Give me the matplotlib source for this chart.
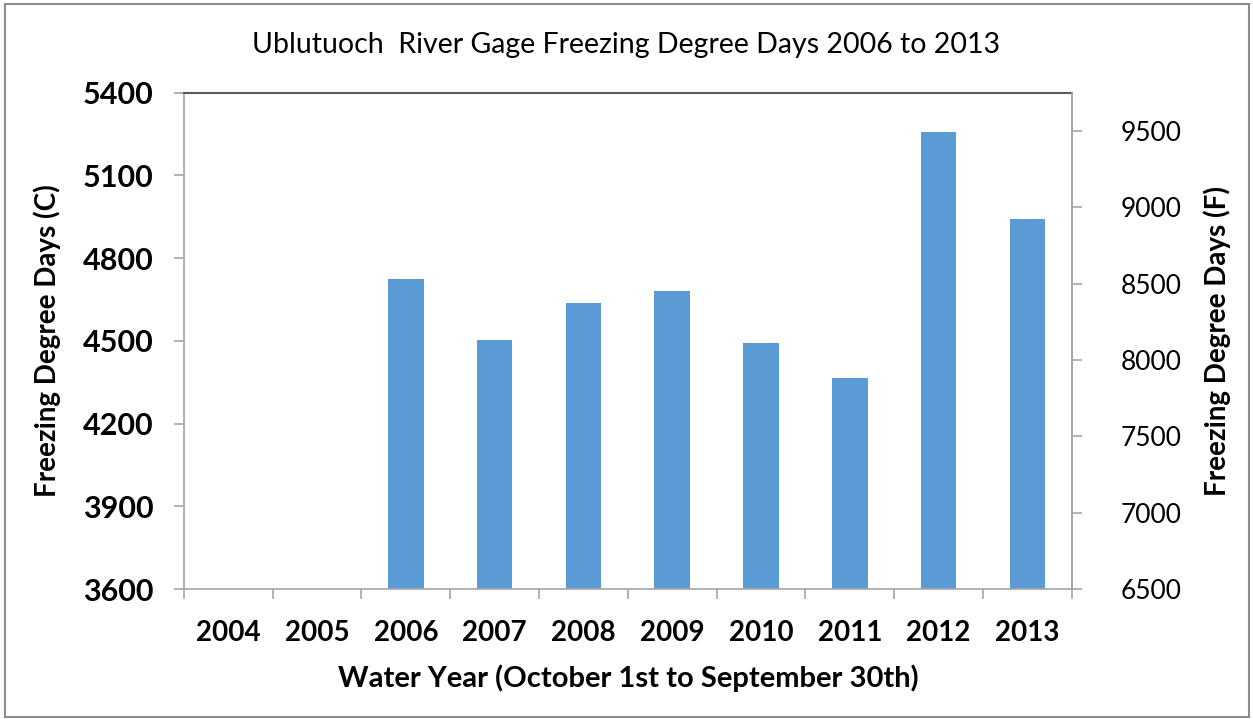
import matplotlib.pyplot as plt
from matplotlib.patches import Rectangle
import numpy as np

# --- DATA ---
years = ['2004', '2005', '2006', '2007', '2008', '2009', '2010', '2011', '2012', '2013']
fdd_c = [np.nan, np.nan, 4723, 4504, 4636, 4681, 4491, 4365, 5256, 4942]
left_ticks = [3600, 3900, 4200, 4500, 4800, 5100, 5400]
right_ticks = [6500, 7000, 7500, 8000, 8500, 9000, 9500]

TITLE = "Ublutuoch  River Gage Freezing Degree Days 2006 to 2013"
BAR_COLOR = "#5B9BD5"
AXIS_GRAY = "#A6A6A6"

plt.rcParams['font.family'] = ['Lato', 'DejaVu Sans']

fig = plt.figure(figsize=(12.53, 7.19), dpi=100)
ax = fig.add_axes([0.1468, 0.1808, 0.7085, 0.6902])

x = np.arange(len(years))
ax.bar(x, fdd_c, width=0.4, color=BAR_COLOR, zorder=2)
ax.set_xlim(-0.5, len(years) - 0.5)
ax.set_ylim(3600, 5400)
ax.set_yticks(left_ticks)
ax.set_yticklabels([str(t) for t in left_ticks], fontsize=22, fontweight='bold')
ax.set_xticks(x)
ax.set_xticklabels(years, fontsize=20, fontweight='bold')
# category boundary tick marks
ax.set_xticks(np.arange(len(years) + 1) - 0.5, minor=True)
ax.tick_params(axis='x', which='major', length=0, pad=22)
ax.tick_params(axis='x', which='minor', length=7, color=AXIS_GRAY, width=1.2)
ax.tick_params(axis='y', length=7, color=AXIS_GRAY, width=1.2, pad=15)

for side in ['left', 'bottom', 'right']:
    ax.spines[side].set_color(AXIS_GRAY)
    ax.spines[side].set_linewidth(1.2)
ax.spines['top'].set_color('#595959')
ax.spines['top'].set_linewidth(1.5)

ax.set_xlabel("Water Year (October 1st to September 30th)", fontsize=21,
              fontweight='bold', va='center')
ax.xaxis.set_label_coords(0.5, -0.179)
ax.set_ylabel("Freezing Degree Days (C)", fontsize=20, fontweight='bold', va='center')
ax.yaxis.set_label_coords(-0.1535, 0.5)

ax2 = ax.twinx()
ax2.set_ylim(6500, 9751)
ax2.set_yticks(right_ticks)
ax2.set_yticklabels([str(t) for t in right_ticks], fontsize=19)
ax2.tick_params(axis='y', length=7, color=AXIS_GRAY, width=1.2, pad=28)
for side in ['left', 'bottom', 'top']:
    ax2.spines[side].set_visible(False)
ax2.spines['right'].set_color(AXIS_GRAY)
ax2.spines['right'].set_linewidth(1.2)
ax2.set_ylabel("Freezing Degree Days (F)", fontsize=20, fontweight='bold', va='center')
ax2.yaxis.set_label_coords(1.164, 0.5)

fig.text(0.5, 0.937, TITLE, ha='center', va='center', fontsize=20.5)

# outer frame
fig.patches.append(Rectangle((0.004, 0.003), 0.993, 0.992, transform=fig.transFigure,
                             fill=False, edgecolor='#8C8C8C', linewidth=1.5))

fig.savefig("out.png", dpi=100)
